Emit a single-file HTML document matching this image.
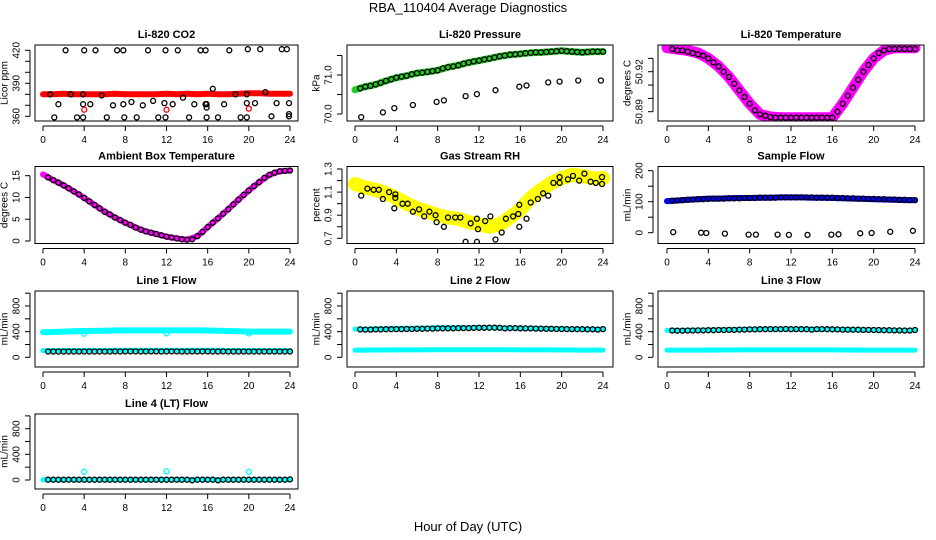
<!DOCTYPE html>
<html><head><meta charset="utf-8">
<style>
html,body{margin:0;padding:0;background:#fff;}
svg{display:block;font-family:"Liberation Sans",Arial,sans-serif;}
</style></head>
<body>
<svg id="chart" width="936" height="540" viewBox="0 0 936 540" xmlns="http://www.w3.org/2000/svg">
<rect x="0" y="0" width="936" height="540" fill="#fff"/>
<text x="468" y="12" text-anchor="middle" font-size="13">RBA_110404  Average Diagnostics</text>
<text x="468" y="531" text-anchor="middle" font-size="13">Hour of Day (UTC)</text>
</svg>
<script>
// ---------- data ----------
const bandHours = [0,1,2,3,4,5,6,7,8,9,10,11,12,13,14,15,16,17,18,19,20,21,22,23,24];
const circleHours = [0.5,1,1.5,2,2.5,3,3.5,4,4.5,5,5.5,6,6.5,7,7.5,8,8.5,9,9.5,10,10.5,11,11.5,12,12.5,13,13.5,14,14.5,15,15.5,16,16.5,17,17.5,18,18.5,19,19.5,20,20.5,21,21.5,22,22.5,23,23.5,24];
const xTicks = [0,4,8,12,16,20,24];

const co2Band = [380,380,380.5,380,380,380,380,380.5,380,380,380,380,380.5,380,380.5,380,380.5,380,380,380.5,381,381,380.5,380.5,380.5];
const co2CircleHours = [2.2,4.0,5.1,7.2,7.8,10.2,11.9,13.1,15.3,15.8,18.1,19.9,21.1,23.2,23.7, 1.1,3.3,3.9,6.2,7.9,9.1,11.2,11.9,14.2,15.9,17.0,19.2,19.8,22.2,23.9, 1.5,3.9,4.6,6.8,7.8,8.6,9.7,10.7,11.8,12.6,14.7,15.8,15.9,17.6,19.8,20.6,22.7,23.9, 0.7,2.7,3.9,5.7,13.6,18.7,19.8,16.5,21.6,23.9,15.9];
const co2CircleVals = [420,420,420,420,420,420,420,420,420,420,420,421,421,421,421, 359,359,359,359,359,359,359,359,359,359,359,359,359,360,360, 371,371,371,370,371,373,370,374,372,371,371,371,371,371,372,372,372,372, 380,380,380,379,377,380,380,385,382,362,368];
const co2RedHours = [4,12,20];
const co2RedVals = [366,366,367];

const pressBand = [70.62,70.70,70.76,70.85,70.93,70.98,71.05,71.08,71.12,71.20,71.25,71.32,71.37,71.42,71.48,71.52,71.54,71.57,71.58,71.60,71.62,71.60,71.58,71.60,71.60];
const pressVals = [70.66,70.70,70.72,70.76,70.80,70.85,70.89,70.93,70.96,70.98,71.02,71.05,71.06,71.08,71.10,71.12,71.17,71.20,71.22,71.25,71.29,71.32,71.35,71.37,71.40,71.42,71.45,71.48,71.50,71.52,71.53,71.54,71.56,71.57,71.58,71.58,71.59,71.60,71.61,71.62,71.61,71.60,71.59,71.58,71.59,71.60,71.60,71.60];
const pressLowHours = [0.6,2.7,3.8,5.6,7.9,8.6,10.7,11.8,13.6,15.9,16.6,18.7,19.8,21.6,23.8];
const pressLowVals = [69.92,70.04,70.15,70.23,70.31,70.35,70.46,70.51,70.61,70.70,70.73,70.81,70.83,70.86,70.86];

const tempBand = [50.938,50.937,50.936,50.934,50.930,50.924,50.916,50.906,50.896,50.888,50.886,50.8855,50.8855,50.8855,50.8855,50.8855,50.8855,50.896,50.908,50.920,50.930,50.936,50.938,50.938,50.938];
const tempVals = [50.937,50.936,50.936,50.935,50.934,50.933,50.932,50.930,50.927,50.924,50.920,50.916,50.911,50.906,50.901,50.896,50.891,50.888,50.887,50.886,50.8855,50.8855,50.8855,50.8855,50.8855,50.8855,50.8855,50.8855,50.8855,50.8855,50.8855,50.8855,50.890,50.896,50.902,50.908,50.914,50.920,50.925,50.930,50.934,50.936,50.937,50.937,50.937,50.937,50.937,50.937];

const ambBand = [15.3,14.0,12.8,11.4,9.9,8.3,6.7,5.4,4.2,3.1,2.2,1.6,1.0,0.6,0.3,1.1,3.2,5.2,7.3,9.5,11.6,13.5,15.2,16.0,16.2];
const ambVals = [14.6,14.0,13.4,12.8,12.1,11.4,10.7,9.9,9.1,8.3,7.5,6.7,6.1,5.4,4.8,4.2,3.7,3.1,2.6,2.2,1.9,1.6,1.3,1.0,0.8,0.6,0.4,0.3,0.4,1.1,2.1,3.2,4.2,5.2,6.3,7.3,8.4,9.5,10.6,11.6,12.6,13.5,14.5,15.2,15.7,16.0,16.1,16.2];

const rhBand = [1.17,1.14,1.12,1.09,1.05,1.00,0.96,0.93,0.90,0.88,0.87,0.84,0.82,0.80,0.82,0.88,0.95,1.05,1.12,1.18,1.22,1.25,1.24,1.22,1.22];
const rhCircleHours = [0.6,1.2,1.8,2.3,2.7,3.3,3.9,3.9,3.8,4.6,5.1,5.6,6.2,6.7,7.2,7.8,7.9,8.6,9.0,9.7,10.2,10.7,11.2,11.8,11.9,11.8,12.6,13.1,13.6,14.2,14.6,15.3,15.8,15.9,15.9,16.6,17.0,17.7,18.2,18.7,19.2,19.8,19.8,20.6,21.1,21.7,22.2,22.8,23.3,23.9,23.9];
const rhCircleVals = [1.07,1.13,1.12,1.12,1.04,1.10,1.08,1.05,0.96,1.00,1.00,0.93,0.95,0.89,0.93,0.90,0.84,0.80,0.88,0.88,0.88,0.67,0.83,0.87,0.78,0.67,0.85,0.89,0.69,0.75,0.87,0.89,0.91,0.99,0.80,0.87,1.01,1.04,1.09,1.07,1.18,1.18,1.23,1.21,1.24,1.20,1.26,1.19,1.18,1.23,1.17];

const flowBand = [102,104,106,108,110,110,111,112,112,113,113,114,114,114,113,113,112,111,110,109,108,107,106,105,105];
const flowVals = [103,104,105,106,107,108,108,109,110,110,110,111,111,111,112,112,112,113,113,113,113,114,114,114,114,114,114,114,113,113,113,113,112,112,111,111,110,110,109,109,108,108,107,107,106,106,105,105];
const flowLowHours = [0.6,3.3,3.8,5.6,7.9,8.6,10.7,11.8,13.6,15.9,16.6,18.7,19.8,21.6,23.8];
const flowLowVals = [2,0,-1,-3,-6,-6,-6,-7,-7,-6,-5,-2,-1,3,6];

const line1Upper = [390,395,400,405,410,412,415,418,420,420,420,420,420,420,420,420,418,415,410,405,400,400,400,400,400];
const line1Lower = [105,105,106,106,106,107,107,107,107,108,108,108,108,108,108,107,107,107,106,106,106,105,105,105,105];
const line1Vals = [90,90,90,91,90,90,91,91,90,90,91,91,91,92,91,92,92,92,91,92,92,92,91,92,92,92,91,91,92,91,92,92,91,91,92,91,91,91,90,90,90,91,90,90,90,90,90,90];
const line1OutHours = [4,12,20];
const line1OutVals = [370,375,372];

const line2Upper = [440,440,445,445,450,450,455,455,460,460,460,460,465,465,460,455,455,450,450,445,445,440,440,440,440];
const line2Lower = [112,112,114,114,115,116,116,117,118,118,118,118,118,118,117,117,116,116,115,115,114,114,113,113,112];
const line2Vals = [435,432,432,435,435,438,438,440,440,442,442,445,445,448,448,450,450,452,452,455,455,455,458,460,460,462,462,460,450,455,455,452,450,450,448,448,445,445,442,442,440,440,438,438,436,436,432,440];

const line3Upper = [420,420,420,425,425,430,430,435,435,440,440,440,440,440,440,435,435,430,430,425,425,420,420,420,420];
const line3Lower = [112,112,112,113,113,114,114,115,115,116,116,116,116,116,116,115,115,114,114,113,113,112,112,112,112];
const line3Vals = [418,415,415,418,418,420,420,422,422,425,425,428,428,432,432,435,435,438,438,440,440,440,442,440,440,438,438,432,440,440,438,436,435,432,432,430,430,428,428,425,425,422,422,420,420,418,418,425];

const line4Band = [5,5,5,5,5,5,5,5,5,5,5,5,5,5,5,5,5,5,5,5,5,5,5,5,5];
const line4Vals = [5,5,5,5,5,5,5,5,5,5,5,5,5,5,5,5,5,5,5,5,5,5,5,5,5,5,5,5,-5,5,5,5,5,-5,5,5,5,5,5,5,5,5,5,5,5,5,5,10];
const line4OutHours = [4,12,20];
const line4OutVals = [130,135,128];

// ---------- layout ----------
const cols = [{l:35,r:298,x0:43,x24:290},{l:347,r:613,x0:355,x24:603},{l:658,r:924,x0:667,x24:915}];
const rows = [{t:45,b:121},{t:166.5,b:243.5},{t:291,b:367},{t:414,b:489}];

const svg = document.getElementById('chart');
const NS = 'http://www.w3.org/2000/svg';
function mk(tag, attrs, parent){
  const e = document.createElementNS(NS, tag);
  for (const k in attrs) e.setAttribute(k, attrs[k]);
  (parent||svg).appendChild(e);
  return e;
}

function panel(cfg){
  const c = cols[cfg.col], r = rows[cfg.row];
  const g = mk('g', {});
  
  
  const xs = h => c.x0 + (c.x24 - c.x0) * h / 24;
  const ys = v => cfg.yA.p + (v - cfg.yA.v) * (cfg.yB.p - cfg.yA.p) / (cfg.yB.v - cfg.yA.v);
  const clipId = 'clip-' + cfg.name;
  const cp = mk('clipPath', {id: clipId}, g);
  mk('rect', {x: c.l, y: r.t, width: c.r - c.l, height: r.b - r.t}, cp);
  const plot = mk('g', {'clip-path': 'url(#' + clipId + ')'}, g);
  (cfg.bands||[]).forEach(b => {
    const pts = bandHours.map((h,i) => xs(h).toFixed(1) + ',' + ys(b.vals[i]).toFixed(1)).join(' ');
    const pl = mk('polyline', {points: pts, fill: 'none', stroke: b.color, 'stroke-width': b.w, 'stroke-linejoin': 'round', 'stroke-linecap': 'round'}, plot);
    
    
  });
  (cfg.circles||[]).forEach(s => {
    s.hours.forEach((h,i) => {
      const ci = mk('circle', {cx: xs(h).toFixed(1), cy: ys(s.vals[i]).toFixed(1), r: 2.5, fill: 'none', stroke: s.color, 'stroke-width': 1.3}, plot);
      
      
    });
  });
  const box = mk('rect', {x: c.l, y: r.t, width: c.r - c.l, height: r.b - r.t, fill: 'none', stroke: '#000', 'stroke-width': 1}, g);
  
  
  const tt = mk('text', {x: (c.l + c.r) / 2, y: r.t - 7, 'text-anchor': 'middle', 'font-size': 11, 'font-weight': 'bold'}, g);
  tt.textContent = cfg.title;
  
  
  const xa = mk('g', {}, g);
  
  
  mk('line', {x1: xs(0), x2: xs(24), y1: r.b + 5, y2: r.b + 5, stroke: '#000'}, xa);
  xTicks.forEach(t => {
    mk('line', {x1: xs(t), x2: xs(t), y1: r.b + 5, y2: r.b + 10, stroke: '#000'}, xa);
    const tl = mk('text', {x: xs(t), y: r.b + 22, 'text-anchor': 'middle', 'font-size': 10}, xa);
    tl.textContent = t;
    
    
  });
  const ya = mk('g', {}, g);
  
  
  const ax = c.l - 5;
  mk('line', {x1: ax, x2: ax, y1: ys(cfg.yTicks[0]), y2: ys(cfg.yTicks[cfg.yTicks.length - 1]), stroke: '#000'}, ya);
  cfg.yTicks.forEach(t => {
    mk('line', {x1: ax - 5, x2: ax, y1: ys(t), y2: ys(t), stroke: '#000'}, ya);
  });
  cfg.yLabels.forEach((lab, i) => {
    const y = ys(cfg.yLabelVals[i]);
    const tl = mk('text', {x: ax - 13, y: y, 'text-anchor': 'middle', 'font-size': 10, transform: 'rotate(-90 ' + (ax - 13) + ' ' + y + ')', 'dominant-baseline': 'central'}, ya);
    tl.textContent = lab;
    
    
  });
  const ymid = (r.t + r.b) / 2;
  const yt = mk('text', {x: c.l - 30, y: ymid, 'text-anchor': 'middle', 'font-size': 10, transform: 'rotate(-90 ' + (c.l - 30) + ' ' + ymid + ')', 'dominant-baseline': 'central'}, ya);
  yt.textContent = cfg.ylab;
  
  
}

const flowTicks = [0,200,400,600,800,1000];
panel({name:'co2', title:'Li-820 CO2', col:0, row:0, ylab:'Licor ppm', yA:{v:420,p:50.3}, yB:{v:360,p:116.3},
  yTicks:[360,370,380,390,400,410,420], yLabels:['360','390','420'], yLabelVals:[360,390,420],
  bands:[{name:'co2-band', vals:co2Band, color:'#ff0000', w:6}],
  circles:[{name:'co2-point', hours:co2CircleHours, vals:co2CircleVals, color:'#000'},{name:'co2-red-point', hours:co2RedHours, vals:co2RedVals, color:'#ff0000'}]});
panel({name:'pressure', title:'Li-820 Pressure', col:1, row:0, ylab:'kPa', yA:{v:71.0,p:75}, yB:{v:70.0,p:114},
  yTicks:[70,70.5,71,71.5], yLabels:['70.0','71.0'], yLabelVals:[70,71],
  bands:[{name:'pressure-band', vals:pressBand, color:'#22cc22', w:7}],
  circles:[{name:'pressure-point', hours:circleHours, vals:pressVals, color:'#000'},{name:'pressure-low-point', hours:pressLowHours, vals:pressLowVals, color:'#000'}]});
panel({name:'temperature', title:'Li-820 Temperature', col:2, row:0, ylab:'degrees C', yA:{v:50.92,p:71.7}, yB:{v:50.89,p:111.7},
  yTicks:[50.89,50.90,50.91,50.92,50.93], yLabels:['50.89','50.92'], yLabelVals:[50.89,50.92],
  bands:[{name:'temperature-band', vals:tempBand, color:'#ff00ff', w:11}],
  circles:[{name:'temperature-point', hours:circleHours, vals:tempVals, color:'#000'}]});
panel({name:'ambient', title:'Ambient Box Temperature', col:0, row:1, ylab:'degrees C', yA:{v:15,p:175.7}, yB:{v:0,p:241},
  yTicks:[0,5,10,15], yLabels:['0','5','10','15'], yLabelVals:[0,5,10,15],
  bands:[{name:'ambient-band', vals:ambBand, color:'#ff00ff', w:6}],
  circles:[{name:'ambient-point', hours:circleHours, vals:ambVals, color:'#000'}]});
panel({name:'rh', title:'Gas Stream RH', col:1, row:1, ylab:'percent', yA:{v:1.3,p:169}, yB:{v:0.7,p:238.3},
  yTicks:[0.7,0.8,0.9,1.0,1.1,1.2,1.3], yLabels:['0.7','0.9','1.1','1.3'], yLabelVals:[0.7,0.9,1.1,1.3],
  bands:[{name:'rh-band', vals:rhBand, color:'#ffff00', w:14}],
  circles:[{name:'rh-point', hours:rhCircleHours, vals:rhCircleVals, color:'#000'}]});
panel({name:'sample-flow', title:'Sample Flow', col:2, row:1, ylab:'mL/min', yA:{v:200,p:170.7}, yB:{v:0,p:232.7},
  yTicks:[0,50,100,150,200], yLabels:['0','100','200'], yLabelVals:[0,100,200],
  bands:[{name:'sample-flow-band', vals:flowBand, color:'#0000ff', w:6}],
  circles:[{name:'sample-flow-point', hours:circleHours, vals:flowVals, color:'#000'},{name:'sample-flow-low-point', hours:flowLowHours, vals:flowLowVals, color:'#000'}]});
panel({name:'line1', title:'Line 1 Flow', col:0, row:2, ylab:'mL/min', yA:{v:800,p:306}, yB:{v:0,p:357.3},
  yTicks:flowTicks, yLabels:['0','400','800'], yLabelVals:[0,400,800],
  bands:[{name:'line1-upper-band', vals:line1Upper, color:'#00ffff', w:6},{name:'line1-lower-band', vals:line1Lower, color:'#00ffff', w:5}],
  circles:[{name:'line1-point', hours:circleHours, vals:line1Vals, color:'#000'},{name:'line1-outlier', hours:line1OutHours, vals:line1OutVals, color:'#00ffff'}]});
panel({name:'line2', title:'Line 2 Flow', col:1, row:2, ylab:'mL/min', yA:{v:800,p:306}, yB:{v:0,p:357.3},
  yTicks:flowTicks, yLabels:['0','400','800'], yLabelVals:[0,400,800],
  bands:[{name:'line2-upper-band', vals:line2Upper, color:'#00ffff', w:5},{name:'line2-lower-band', vals:line2Lower, color:'#00ffff', w:5}],
  circles:[{name:'line2-point', hours:circleHours, vals:line2Vals, color:'#000'}]});
panel({name:'line3', title:'Line 3 Flow', col:2, row:2, ylab:'mL/min', yA:{v:800,p:306}, yB:{v:0,p:357.3},
  yTicks:flowTicks, yLabels:['0','400','800'], yLabelVals:[0,400,800],
  bands:[{name:'line3-upper-band', vals:line3Upper, color:'#00ffff', w:5},{name:'line3-lower-band', vals:line3Lower, color:'#00ffff', w:5}],
  circles:[{name:'line3-point', hours:circleHours, vals:line3Vals, color:'#000'}]});
panel({name:'line4', title:'Line 4 (LT) Flow', col:0, row:3, ylab:'mL/min', yA:{v:800,p:428.7}, yB:{v:0,p:480},
  yTicks:flowTicks, yLabels:['0','400','800'], yLabelVals:[0,400,800],
  bands:[{name:'line4-band', vals:line4Band, color:'#00ffff', w:5}],
  circles:[{name:'line4-point', hours:circleHours, vals:line4Vals, color:'#000'},{name:'line4-outlier', hours:line4OutHours, vals:line4OutVals, color:'#00ffff'}]});
</script>
</body></html>
